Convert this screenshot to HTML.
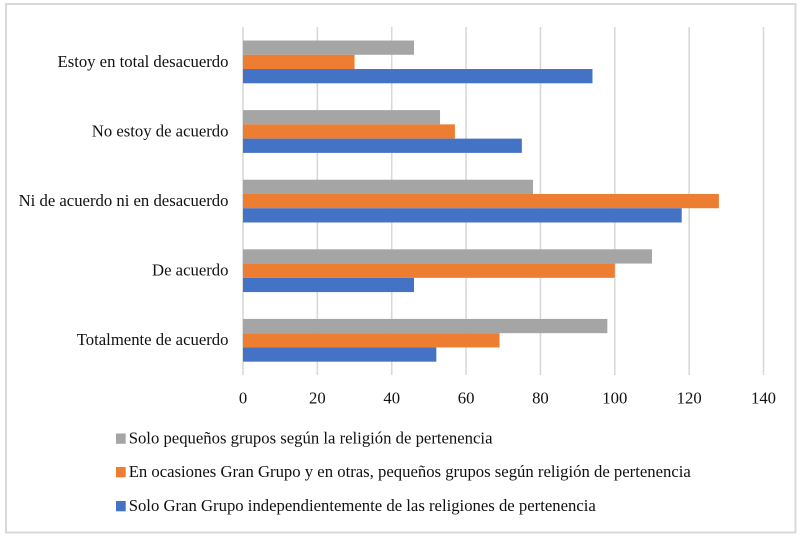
<!DOCTYPE html>
<html lang="es">
<head>
<meta charset="utf-8">
<title>Chart</title>
<style>
html,body{margin:0;padding:0;background:#fff;width:800px;height:539px;overflow:hidden}
svg{display:block}
text{font-family:"Liberation Serif",serif;font-size:16.7px;fill:#111}
</style>
</head>
<body>
<svg id="chart" width="800" height="539" viewBox="0 0 800 539" xmlns="http://www.w3.org/2000/svg">
<rect x="6" y="4" width="789.5" height="528.5" fill="#fff" stroke="#d9d9d9" stroke-width="2"/>
<g id="grid"></g>
<g id="bars"></g>
<g id="ylabels"></g>
<g id="xlabels"></g>
<g id="legend"></g>
</svg>
<script>
const categories = ["Estoy en total desacuerdo", "No estoy de acuerdo", "Ni de acuerdo ni en desacuerdo", "De acuerdo", "Totalmente de acuerdo"];
const seriesNames = ["Solo pequeños grupos según la religión de pertenencia", "En ocasiones Gran Grupo y en otras, pequeños grupos según religión de pertenencia", "Solo Gran Grupo independientemente de las religiones de pertenencia"];
const pequenosGrupos = [46, 53, 78, 110, 98];
const ocasiones = [30, 57, 128, 100, 69];
const granGrupo = [94, 75, 118, 46, 52];
const xTicks = [0, 20, 40, 60, 80, 100, 120, 140];

const NS = "http://www.w3.org/2000/svg";
const seriesValues = [pequenosGrupos, ocasiones, granGrupo];
const seriesColors = ["#a5a5a5", "#ed7d31", "#4472c4"];
const plot = {left: 243, right: 763.5, top: 27, bottom: 375};
const xMax = xTicks[xTicks.length - 1];
const barH = 14.25;

function xScale(v) {
  return plot.left + (v / xMax) * (plot.right - plot.left);
}
function bandCenter(i) {
  return plot.top + (i + 0.5) * (plot.bottom - plot.top) / categories.length;
}
function make(tag, attrs, parent, txt) {
  const el = document.createElementNS(NS, tag);
  for (const k in attrs) el.setAttribute(k, attrs[k]);
  if (txt !== undefined) el.textContent = txt;
  parent.appendChild(el);
  return el;
}

const gridG = document.getElementById("grid");
const xlabG = document.getElementById("xlabels");
xTicks.forEach(function (t) {
  const line = make("line", {x1: xScale(t), x2: xScale(t), y1: plot.top, y2: plot.bottom, stroke: "#d9d9d9", "stroke-width": 1.6}, gridG);
  
  
  const label = make("text", {x: xScale(t), y: 403.3, "text-anchor": "middle"}, xlabG, String(t));
  
  
});

const barsG = document.getElementById("bars");
const ylabG = document.getElementById("ylabels");
categories.forEach(function (c, i) {
  const cy = bandCenter(i);
  const label = make("text", {x: 228.5, y: cy + 5, "text-anchor": "end"}, ylabG, c);
  
  
  seriesValues.forEach(function (vals, s) {
    const bar = make("rect", {
      x: xScale(0),
      y: cy + (s - 1.5) * barH + 0.1,
      width: xScale(vals[i]) - xScale(0),
      height: barH,
      fill: seriesColors[s]
    }, barsG);
    
    
  });
});

const legendG = document.getElementById("legend");
const legendY = [438.5, 472, 506];
seriesNames.forEach(function (n, s) {
  const swatch = make("rect", {x: 116, y: legendY[s] - 5, width: 9.7, height: 10.3, fill: seriesColors[s]}, legendG);
  
  
  const label = make("text", {x: 128.7, y: legendY[s] + 5}, legendG, n);
  
  
});
</script>
</body>
</html>
